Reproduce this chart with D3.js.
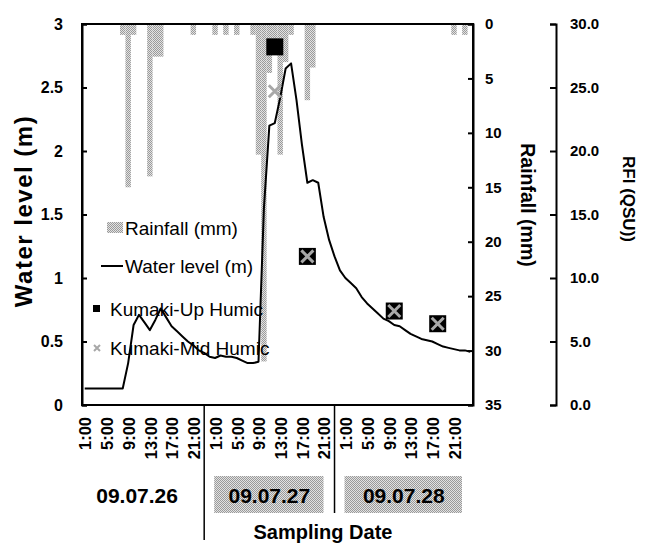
<!DOCTYPE html>
<html><head><meta charset="utf-8">
<script src="https://cdn.jsdelivr.net/npm/d3@7"></script>
<style>html,body{margin:0;padding:0;background:#fff;}svg{display:block;font-family:"Liberation Sans",Arial,sans-serif;}</style>
</head><body><svg id="c" width="648" height="543"></svg>
<script>
// ---- data ----
const days = ["09.07.26", "09.07.27", "09.07.28"];
const hourTicks = ["1:00", "5:00", "9:00", "13:00", "17:00", "21:00"];
const waterLevel = [
  0.13,0.13,0.13,0.13,0.13,0.13,0.13,0.13,0.33,0.63,0.71,0.65,0.59,0.67,0.76,0.69,0.62,0.58,0.54,0.50,0.47,0.43,0.41,0.38,
  0.37,0.39,0.38,0.38,0.37,0.35,0.33,0.33,0.34,1.55,2.20,2.22,2.42,2.65,2.69,2.40,2.05,1.75,1.77,1.75,1.48,1.30,1.17,1.06,
  1.00,0.96,0.92,0.85,0.80,0.76,0.72,0.68,0.66,0.63,0.62,0.59,0.56,0.54,0.52,0.51,0.50,0.48,0.46,0.45,0.44,0.43,0.43,0.42];
const rainfall = [
  0,0,0,0,0,0,0,1,15,1,0,0,14,3,3,0,0,0,0,0,1,0,0,0,
  1,0,1,0,1,0,0,1,12,31,4.5,2,12,3.5,1,0,0,7,4,0,0,0,0,0,
  0,0,0,0,0,0,0,0,0,0,0,0,0,0,0,0,0,0,0,0,1,0,1,0];
const sampleIndex = [35, 41, 57, 65];
const upHumic = [28.2, 11.7, 7.4, 6.4];
const midHumic = [24.7, 11.7, 7.4, 6.4];
const levelTicks = [0, 0.5, 1, 1.5, 2, 2.5, 3];
const rainTicks = [0, 5, 10, 15, 20, 25, 30, 35];
const rfiTicks = [0, 5, 10, 15, 20, 25, 30];
const legendNames = ["Rainfall (mm)", "Water level (m)", "Kumaki-Up Humic", "Kumaki-Mid Humic"];

// ---- layout ----
const L = 82, R = 473, T = 24, B = 405, RFIX = 556;
const FONT = '"Liberation Sans",Arial,sans-serif';
const svg = d3.select("#c");

const cats = [];
days.forEach(d => { for (let h = 1; h <= 24; h++) cats.push(d + " " + h + ":00"); });
const hourOf = c => c.split(" ")[1];

const x = d3.scaleBand().domain(cats).range([L, R]).padding(0);
const yL = d3.scaleLinear().domain([0, 3]).range([B, T]);
const yRain = d3.scaleLinear().domain([0, 35]).range([T, B]);
const yRFI = d3.scaleLinear().domain([0, 30]).range([B, T]);
const cx = i => x(cats[i]) + x.bandwidth() / 2;

const defs = svg.append("defs");
const pat = defs.append("pattern").attr("id", "hatch").attr("width", 2).attr("height", 2)
  .attr("patternUnits", "userSpaceOnUse");
pat.append("rect").attr("width", 2).attr("height", 2).attr("fill", "#e2e2e2");
pat.append("rect").attr("width", 1).attr("height", 1).attr("fill", "#9a9a9a");
pat.append("rect").attr("x", 1).attr("y", 1).attr("width", 1).attr("height", 1).attr("fill", "#9a9a9a");

// rainfall bars hanging from top
svg.append("g").selectAll("rect").data(rainfall.map((v, i) => ({v, i})).filter(d => d.v > 0))
  .join("rect")
  .attr("x", d => x(cats[d.i])).attr("width", x.bandwidth())
  .attr("y", yRain(0)).attr("height", d => yRain(d.v) - yRain(0))
  .attr("fill", "url(#hatch)");

// frame
svg.append("rect").attr("x", L).attr("y", T).attr("width", R - L).attr("height", B - T)
  .attr("fill", "none").attr("stroke", "#000").attr("stroke-width", 2);

const styleAxis = (g, size) => {
  g.select(".domain").attr("stroke-width", 2);
  g.selectAll(".tick line").attr("stroke-width", 2);
  g.selectAll("text").attr("font-family", FONT).attr("font-size", size).attr("font-weight", "bold").attr("fill", "#000");
};

// left axis
const gl = svg.append("g").attr("transform", `translate(${L},0)`)
  .call(d3.axisLeft(yL).tickValues(levelTicks).tickFormat(d3.format("")).tickSize(-5).tickPadding(19));
styleAxis(gl, 16);

// right rainfall axis
const gr = svg.append("g").attr("transform", `translate(${R},0)`)
  .call(d3.axisRight(yRain).tickValues(rainTicks).tickSize(-5).tickPadding(12));
styleAxis(gr, 15);

// RFI axis
const gf = svg.append("g").attr("transform", `translate(${RFIX},0)`)
  .call(d3.axisRight(yRFI).tickValues(rfiTicks).tickFormat(d3.format(".1f")).tickSize(-6).tickPadding(14));
styleAxis(gf, 15);

// x tick labels
svg.append("g").selectAll("text").data(cats.filter(c => hourTicks.includes(hourOf(c))))
  .join("text")
  .attr("transform", c => `translate(${x(c) + x.bandwidth() / 2 + 1},${B + 12}) rotate(-90)`)
  .attr("text-anchor", "end").attr("dy", "0.35em")
  .attr("font-family", FONT).attr("font-size", 16.5).attr("font-weight", "bold")
  .text(hourOf);

// day separators
const sep = [1, 2].map(d => (cx(d * 24 - 4) + cx(d * 24)) / 2);
const sepBottom = [540, 513];
sep.forEach((s, k) => svg.append("line").attr("x1", s).attr("x2", s).attr("y1", B).attr("y2", sepBottom[k])
  .attr("stroke", "#000").attr("stroke-width", 1.5));

// day labels
const bounds = [70, sep[0], sep[1], R];
days.forEach((d, k) => {
  const c = (bounds[k] + bounds[k + 1]) / 2;
  if (k > 0) {
    svg.append("rect").attr("x", bounds[k] + 10).attr("y", 476)
      .attr("width", bounds[k + 1] - bounds[k] - 21).attr("height", 37).attr("fill", "url(#hatch)");
  }
  svg.append("text").attr("x", c).attr("y", 496).attr("dy", "0.35em").attr("text-anchor", "middle")
    .attr("font-family", FONT).attr("font-size", 21).attr("font-weight", "bold").text(d);
});

// water level line
svg.append("path").datum(waterLevel)
  .attr("d", d3.line().x((d, i) => cx(i)).y(d => yL(d)))
  .attr("fill", "none").attr("stroke", "#000").attr("stroke-width", 2).attr("stroke-linejoin", "round");

// samples
const sq = 17;
svg.append("g").selectAll("rect").data(sampleIndex.map((idx, k) => ({idx, v: upHumic[k]})))
  .join("rect")
  .attr("x", d => cx(d.idx) - sq / 2).attr("y", d => yRFI(d.v) - sq / 2)
  .attr("width", sq).attr("height", sq).attr("fill", "#000");
const xs = 6;
svg.append("g").selectAll("path").data(sampleIndex.map((idx, k) => ({idx, v: midHumic[k]})))
  .join("path")
  .attr("d", d => { const px = cx(d.idx), py = yRFI(d.v);
    return `M${px - xs},${py - xs}L${px + xs},${py + xs}M${px - xs},${py + xs}L${px + xs},${py - xs}`; })
  .attr("stroke", "#a8a8a8").attr("stroke-width", 3).attr("fill", "none");

// legend
const lg = svg.append("g").attr("font-family", FONT).attr("font-size", 19);
lg.append("rect").attr("x", 107).attr("y", 222).attr("width", 16).attr("height", 11).attr("fill", "url(#hatch)");
lg.append("text").attr("x", 125).attr("y", 228).attr("dy", "0.35em").text(legendNames[0]);
lg.append("line").attr("x1", 101).attr("x2", 123).attr("y1", 266).attr("y2", 266).attr("stroke", "#000").attr("stroke-width", 2);
lg.append("text").attr("x", 125).attr("y", 266).attr("dy", "0.35em").text(legendNames[1]);
lg.append("rect").attr("x", 93).attr("y", 305).attr("width", 7).attr("height", 7).attr("fill", "#000");
lg.append("text").attr("x", 110).attr("y", 309).attr("dy", "0.35em").text(legendNames[2]);
lg.append("path").attr("d", "M94,345L100,351M94,351L100,345").attr("stroke", "#a8a8a8").attr("stroke-width", 2);
lg.append("text").attr("x", 110).attr("y", 348).attr("dy", "0.35em").text(legendNames[3]);

// axis titles
const title = (t, tx, ty, rot, size, ls) => svg.append("text")
  .attr("transform", `translate(${tx},${ty}) rotate(${rot})`).attr("text-anchor", "middle").attr("dy", "0.35em")
  .attr("font-family", FONT).attr("font-size", size).attr("font-weight", "bold")
  .attr("letter-spacing", ls || 0).text(t);
title("Water level (m)", 24, 211, -90, 24, 1.5);
title("Rainfall (mm)", 528, 205, 90, 19.5);
title("RFI (QSU))", 629, 199, 90, 17);
svg.append("text").attr("x", 323).attr("y", 539).attr("text-anchor", "middle")
  .attr("font-family", FONT).attr("font-size", 20).attr("font-weight", "bold").text("Sampling Date");
</script></body></html>
